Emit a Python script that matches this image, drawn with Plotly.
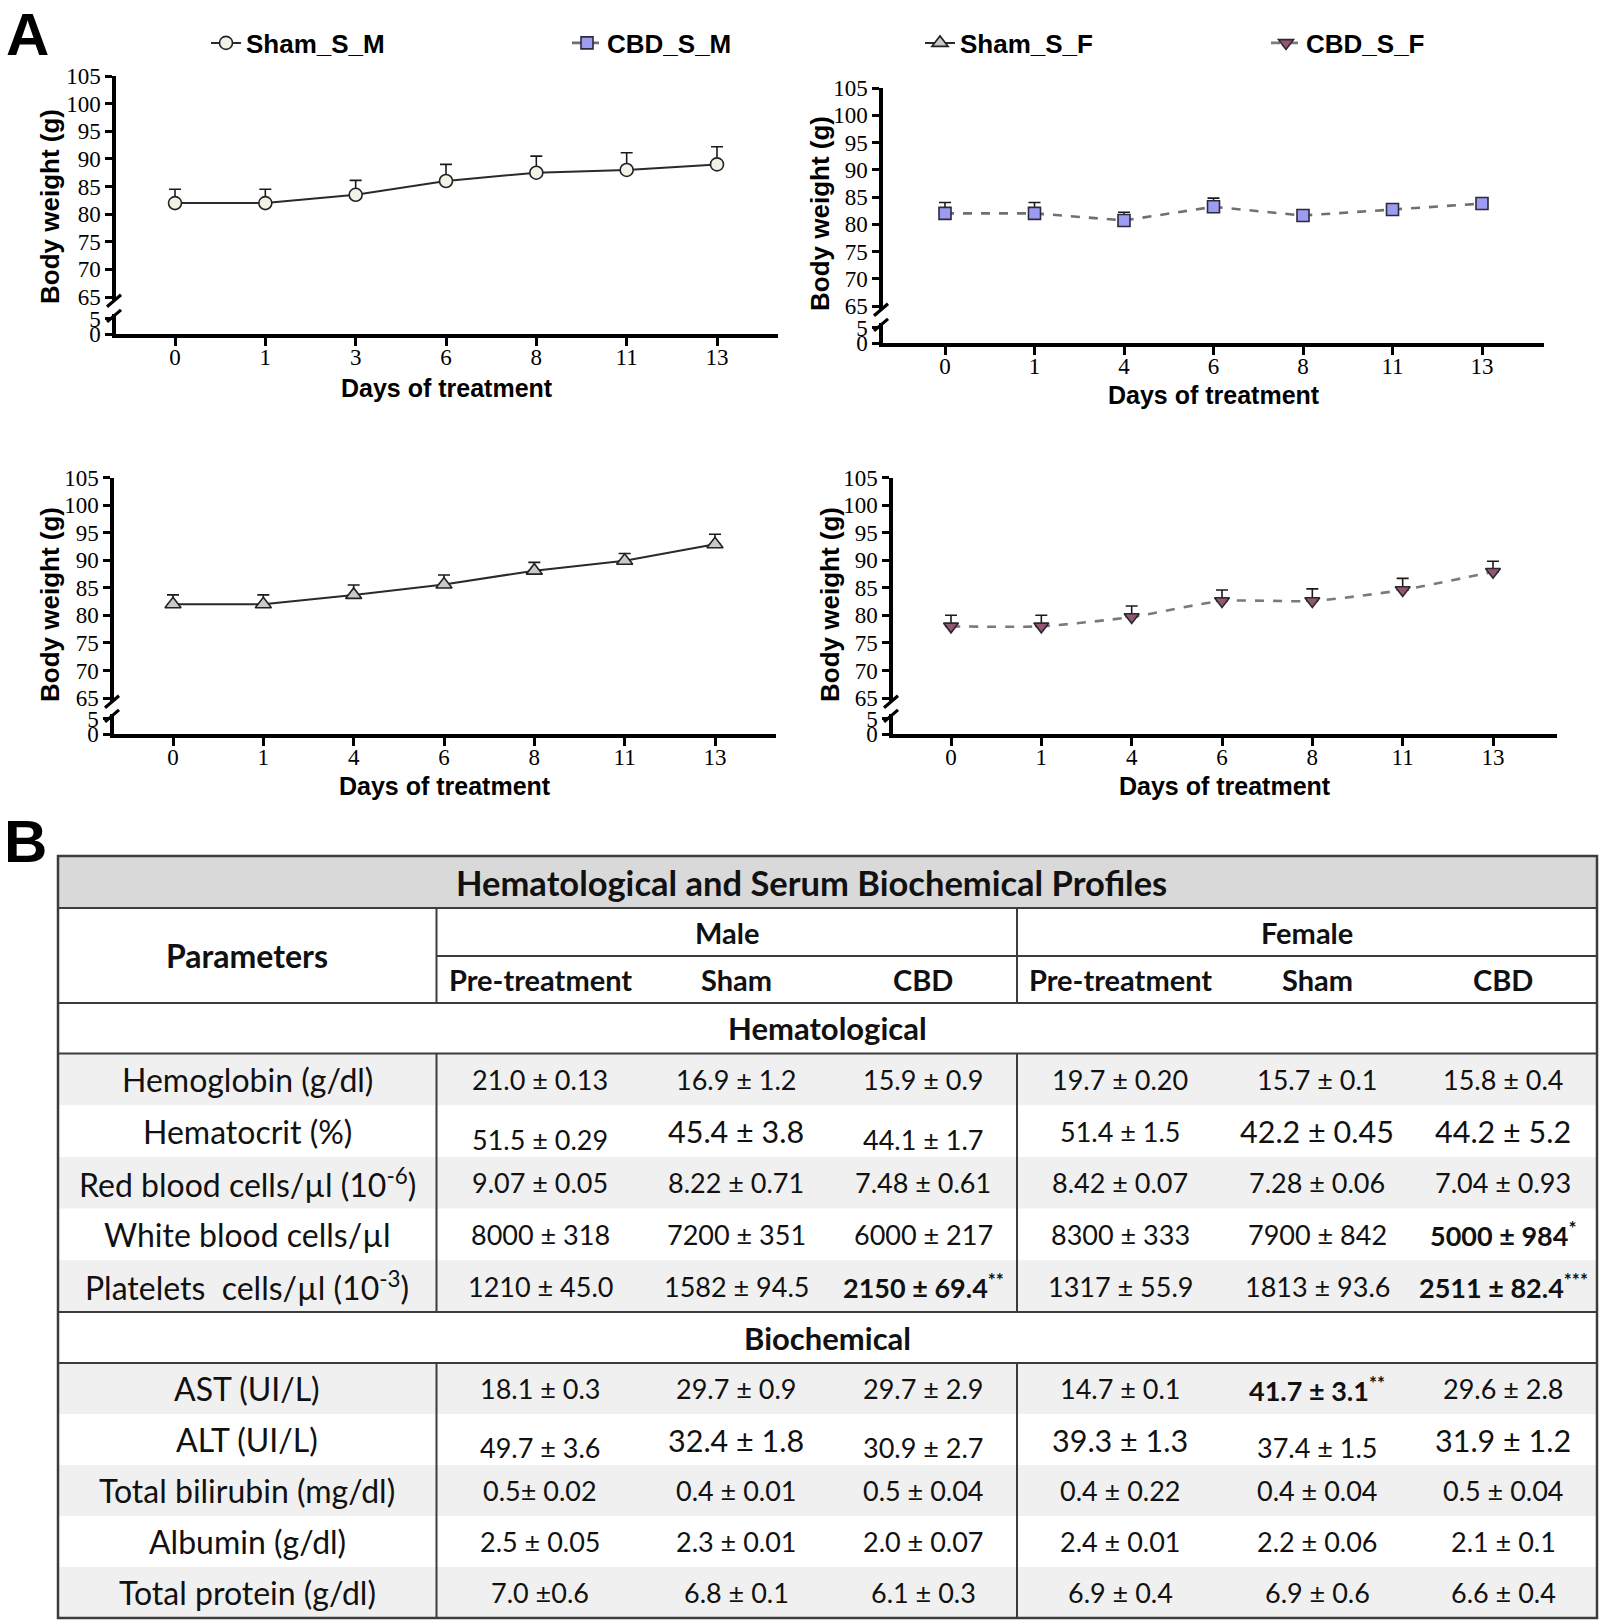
import plotly.graph_objects as go

W, H = 1600, 1622

# ---------------- Panel A: body weight ----------------
days_sham_m = ["0", "1", "3", "6", "8", "11", "13"]
days_cbd_m = ["0", "1", "4", "6", "8", "11", "13"]
days_sham_f = ["0", "1", "4", "6", "8", "11", "13"]
days_cbd_f = ["0", "1", "4", "6", "8", "11", "13"]

sham_m_mean = [82.0, 82.0, 83.5, 86.0, 87.5, 88.0, 89.0]
sham_m_err = [2.5, 2.5, 2.6, 3.0, 3.0, 3.1, 3.2]
cbd_m_mean = [82.0, 82.0, 80.7, 83.2, 81.6, 82.7, 83.8]
cbd_m_err = [2.0, 2.0, 1.5, 1.6, 0.9, 0.9, 0.9]
sham_f_mean = [82.0, 82.0, 83.7, 85.6, 88.1, 89.9, 92.9]
sham_f_err = [1.7, 1.7, 1.8, 1.7, 1.5, 1.3, 1.8]
cbd_f_mean = [78.0, 78.0, 79.7, 82.6, 82.6, 84.6, 87.9]
cbd_f_err = [2.0, 2.0, 2.0, 2.0, 2.2, 2.1, 1.9]

series_names = ["Sham_S_M", "CBD_S_M", "Sham_S_F", "CBD_S_F"]
upper_ticks = [65, 70, 75, 80, 85, 90, 95, 100, 105]
lower_ticks = [0, 5]

# ---------------- Panel B: table ----------------
table_title = "Hematological and Serum Biochemical Profiles"
groups = ["Male", "Female"]
subgroups = ["Pre-treatment", "Sham", "CBD"]

hema_params = ["Hemoglobin (g/dl)", "Hematocrit (%)",
               "Red blood cells/µl (10<sup>-6</sup>)", "White blood cells/µl",
               "Platelets  cells/µl (10<sup>-3</sup>)"]
hema_male_pre = ["21.0 ± 0.13", "51.5 ± 0.29", "9.07 ± 0.05", "8000 ± 318", "1210 ± 45.0"]
hema_male_sham = ["16.9 ± 1.2", "45.4 ± 3.8", "8.22 ± 0.71", "7200 ± 351", "1582 ± 94.5"]
hema_male_cbd = ["15.9 ± 0.9", "44.1 ± 1.7", "7.48 ± 0.61", "6000 ± 217", "2150 ± 69.4"]
hema_female_pre = ["19.7 ± 0.20", "51.4 ± 1.5", "8.42 ± 0.07", "8300 ± 333", "1317 ± 55.9"]
hema_female_sham = ["15.7 ± 0.1", "42.2 ± 0.45", "7.28 ± 0.06", "7900 ± 842", "1813 ± 93.6"]
hema_female_cbd = ["15.8 ± 0.4", "44.2 ± 5.2", "7.04 ± 0.93", "5000 ± 984", "2511 ± 82.4"]

bio_params = ["AST (UI/L)", "ALT (UI/L)", "Total bilirubin (mg/dl)",
              "Albumin (g/dl)", "Total protein (g/dl)"]
bio_male_pre = ["18.1 ± 0.3", "49.7 ± 3.6", "0.5± 0.02", "2.5 ± 0.05", "7.0 ±0.6"]
bio_male_sham = ["29.7 ± 0.9", "32.4 ± 1.8", "0.4 ± 0.01", "2.3 ± 0.01", "6.8 ± 0.1"]
bio_male_cbd = ["29.7 ± 2.9", "30.9 ± 2.7", "0.5 ± 0.04", "2.0 ± 0.07", "6.1 ± 0.3"]
bio_female_pre = ["14.7 ± 0.1", "39.3 ± 1.3", "0.4 ± 0.22", "2.4 ± 0.01", "6.9 ± 0.4"]
bio_female_sham = ["41.7 ± 3.1", "37.4 ± 1.5", "0.4 ± 0.04", "2.2 ± 0.06", "6.9 ± 0.6"]
bio_female_cbd = ["29.6 ± 2.8", "31.9 ± 1.2", "0.5 ± 0.04", "2.1 ± 0.1", "6.6 ± 0.4"]

# (section, row, column, significance mark)
significance = [("hema", 4, 2, "**"), ("hema", 3, 5, "*"),
                ("hema", 4, 5, "***"), ("bio", 0, 4, "**")]


def px(x):
    return x / W


def py(y):
    return 1 - y / H


fig = go.Figure()

# panel geometry in page pixels (t0/t6: first and last tick positions)
panels = [
    dict(left=116, right=778, t0=175, t6=717, y105=76, y65=297, y0=334, xt=388, yt=(50, 207)),
    dict(left=883, right=1544, t0=945, t6=1482, y105=88, y65=306, y0=343, xt=395, yt=(820, 213)),
    dict(left=114, right=776, t0=173, t6=715, y105=477.5, y65=698, y0=734, xt=786, yt=(50, 605)),
    dict(left=893, right=1557, t0=951, t6=1493, y105=477.5, y65=698, y0=734, xt=786, yt=(830, 605)),
]
styles = [
    dict(symbol="circle", size=13, fill="#f4f1e6", line="#222222", dash="solid", lc="#2a2a2a", shape="linear"),
    dict(symbol="square", size=12, fill="#9c9cf2", line="#2a2a3a", dash="dash", lc="#707070", shape="linear"),
    dict(symbol="triangle-up", size=14, fill="#c9c9c9", line="#222222", dash="solid", lc="#2a2a2a", shape="linear"),
    dict(symbol="triangle-down", size=13, fill="#935574", line="#2a2a2a", dash="dash", lc="#7a7a7a", shape="spline"),
]
legend_x = [206, 567, 920, 1266]
days_list = [days_sham_m, days_cbd_m, days_sham_f, days_cbd_f]
means = [sham_m_mean, cbd_m_mean, sham_f_mean, cbd_f_mean]
errs = [sham_m_err, cbd_m_err, sham_f_err, cbd_f_err]

tick_font = dict(family="Liberation Serif, Times New Roman, serif", size=23, color="black")
legend_font = dict(family="Liberation Sans, Arial", size=26, color="black", weight="bold")
shapes = []
annotations = []
legends = {}

for i, (p, st, days, m, e, name) in enumerate(zip(panels, styles, days_list, means, errs, series_names), start=1):
    xn = "xaxis" if i == 1 else f"xaxis{i}"
    yu = "yaxis" if i == 1 else f"yaxis{i}"
    yl = f"yaxis{i + 4}"
    xref = "x" if i == 1 else f"x{i}"
    yuref = "y" if i == 1 else f"y{i}"
    ylref = f"y{i + 4}"
    lg = "legend" if i == 1 else f"legend{i}"

    sp = (p["t6"] - p["t0"]) / 6.0
    xr = [(p["left"] - p["t0"]) / sp, (p["right"] - p["t0"]) / sp]
    ppu = (p["y65"] - p["y105"]) / 40.0
    up_bottom = p["y65"] + 0.5 * ppu
    low_top = p["y0"] - 6.5 * 3.1

    fig.add_trace(go.Scatter(
        x=list(range(len(days))), y=m, name=name, legend=lg,
        mode="lines+markers", xaxis=xref, yaxis=yuref,
        line=dict(color=st["lc"], width=2.6 if st["dash"] == "dash" else 2, dash=st["dash"], shape=st["shape"], smoothing=0.6),
        marker=dict(symbol=st["symbol"], size=st["size"], color=st["fill"], line=dict(color=st["line"], width=1.6)),
        error_y=dict(type="data", array=e, arrayminus=[0] * len(e), symmetric=False,
                     color="#1a1a1a", thickness=1.6, width=6),
        cliponaxis=False,
    ))
    # empty trace so the lower (broken) axis segment forms its own subplot
    fig.add_trace(go.Scatter(x=[None], y=[None], xaxis=xref, yaxis=ylref,
                             showlegend=False, mode="markers", hoverinfo="skip"))

    legends[lg] = dict(orientation="h", x=px(legend_x[i - 1]), y=py(43), xanchor="left", yanchor="middle",
                       bgcolor="rgba(0,0,0,0)", font=legend_font, itemwidth=30)

    fig.layout[xn] = dict(
        domain=[px(p["left"]), px(p["right"])], range=xr, anchor=ylref,
        tickvals=list(range(len(days))), ticktext=days, showgrid=False, zeroline=False,
        showline=True, linecolor="black", linewidth=3.5,
        ticks="outside", ticklen=8, tickwidth=3, tickcolor="black", tickfont=tick_font,
        ticklabelstandoff=-8,
    )
    fig.layout[yu] = dict(
        domain=[py(up_bottom), py(p["y105"])], range=[64.5, 105], anchor=xref,
        tickvals=upper_ticks, showgrid=False, zeroline=False,
        showline=True, linecolor="black", linewidth=3.5,
        ticks="outside", ticklen=7, tickwidth=2.5, tickcolor="black", tickfont=tick_font,
    )
    fig.layout[yl] = dict(
        domain=[py(p["y0"]), py(low_top)], range=[0, 6.5], anchor=xref,
        tickvals=lower_ticks, showgrid=False, zeroline=False,
        showline=True, linecolor="black", linewidth=3.5,
        ticks="outside", ticklen=7, tickwidth=2.5, tickcolor="black", tickfont=tick_font,
    )

    # axis break marks
    for yb in (up_bottom + 1, low_top + 2):
        shapes.append(dict(type="line", xref="paper", yref="paper",
                           x0=px(p["left"] - 9), y0=py(yb + 6), x1=px(p["left"] + 5), y1=py(yb - 6),
                           line=dict(color="black", width=3.2)))

    annotations.append(dict(text="Days of treatment", xref="paper", yref="paper",
                            x=px((p["left"] + p["right"]) / 2), y=py(p["xt"]), showarrow=False,
                            xanchor="center", yanchor="middle",
                            font=dict(family="Liberation Sans, Arial", size=25, color="black", weight="bold")))
    annotations.append(dict(text="Body weight (g)", xref="paper", yref="paper", textangle=-90,
                            x=px(p["yt"][0]), y=py(p["yt"][1]), showarrow=False,
                            xanchor="center", yanchor="middle",
                            font=dict(family="Liberation Sans, Arial", size=26, color="black", weight="bold")))

# panel letters
for letter, (lx, ly) in zip(["A", "B"], [(27, 34), (25, 841)]):
    annotations.append(dict(text=letter, xref="paper", yref="paper", x=px(lx), y=py(ly),
                            showarrow=False, xanchor="center", yanchor="middle",
                            font=dict(family="Liberation Sans, Arial", size=60, color="black", weight="bold")))

# ---------------- table drawing ----------------
T_L, T_R = 58, 1597
C_P, C_M = 436.5, 1017
Y_TOP, Y_TITLE, Y_H1, Y_H2, Y_HSEC = 856, 908, 956, 1003, 1053.5
Y_HEND, Y_BSEC, Y_BEND = 1312, 1363, 1618
col_x = [540, 736, 923, 1120, 1317, 1503]
line_c = "#3c3c3c"
tfont = "Lato, Carlito, Calibri, sans-serif"


def rect(x0, y0, x1, y1, color):
    shapes.append(dict(type="rect", xref="paper", yref="paper", layer="below",
                       x0=px(x0), y0=py(y1), x1=px(x1), y1=py(y0),
                       fillcolor=color, line=dict(width=0)))


def hline(x0, x1, y, w=2):
    shapes.append(dict(type="line", xref="paper", yref="paper",
                       x0=px(x0), x1=px(x1), y0=py(y), y1=py(y), line=dict(color=line_c, width=w)))


def vline(x, y0, y1, w=2):
    shapes.append(dict(type="line", xref="paper", yref="paper",
                       x0=px(x), x1=px(x), y0=py(y0), y1=py(y1), line=dict(color=line_c, width=w)))


def text(s, x, y, size, bold=False):
    annotations.append(dict(text=s, xref="paper", yref="paper", x=px(x), y=py(y),
                            showarrow=False, xanchor="center", yanchor="middle",
                            font=dict(family=tfont, size=size, color="#111111",
                                      weight="bold" if bold else "normal")))


rect(T_L, Y_TOP, T_R, Y_TITLE, "#d9d9d9")

sections = [
    ("hema", "Hematological", hema_params,
     [hema_male_pre, hema_male_sham, hema_male_cbd, hema_female_pre, hema_female_sham, hema_female_cbd],
     Y_H2, Y_HSEC, Y_HEND),
    ("bio", "Biochemical", bio_params,
     [bio_male_pre, bio_male_sham, bio_male_cbd, bio_female_pre, bio_female_sham, bio_female_cbd],
     Y_HEND, Y_BSEC, Y_BEND),
]
sig_map = {(s, r, c): mark for s, r, c, mark in significance}
# cells printed larger / lower in the source table
big_cells = {("hema", 1, 1), ("hema", 1, 4), ("hema", 1, 5),
             ("bio", 1, 1), ("bio", 1, 3), ("bio", 1, 5)}
low_cells = {("hema", 1, 0), ("hema", 1, 2), ("bio", 1, 0), ("bio", 1, 2), ("bio", 1, 4)}

for key, label, params, cols, y_sec0, y_sec1, y_end in sections:
    text(f"<b>{label}</b>", (T_L + T_R) / 2, (y_sec0 + y_sec1) / 2, 31, bold=True)
    rh = (y_end - y_sec1) / len(params)
    for r, prm in enumerate(params):
        r0 = y_sec1 + r * rh
        rc = r0 + rh / 2
        if r % 2 == 0:
            rect(T_L, r0, T_R, r0 + rh, "#f0f0f0")
        text(prm, (T_L + C_P) / 2, rc, 32)
        for c, col in enumerate(cols):
            k = (key, r, c)
            s = col[r]
            mark = sig_map.get(k, "")
            if mark:
                s = f"<b>{s}</b><sup>{mark}</sup>"
            size = 30.5 if k in big_cells else 27
            yy = rc + 8 if k in low_cells else rc
            text(s, col_x[c], yy, size, bold=bool(mark))
    hline(T_L, T_R, y_sec1)
    vline(C_P, y_sec1, y_end)
    vline(C_M, y_sec1, y_end)

# header texts
text(f"<b>{table_title}</b>", 811, (Y_TOP + Y_TITLE) / 2, 34.5, bold=True)
text("<b>Parameters</b>", (T_L + C_P) / 2, (Y_TITLE + Y_H2) / 2, 32, bold=True)
text(f"<b>{groups[0]}</b>", (C_P + C_M) / 2, (Y_TITLE + Y_H1) / 2, 29, bold=True)
text(f"<b>{groups[1]}</b>", (C_M + T_R) / 2, (Y_TITLE + Y_H1) / 2, 29, bold=True)
for c, sg in enumerate(subgroups * 2):
    text(f"<b>{sg}</b>", col_x[c], (Y_H1 + Y_H2) / 2, 29, bold=True)

# grid lines
hline(T_L, T_R, Y_TITLE)
hline(C_P, T_R, Y_H1)
hline(T_L, T_R, Y_H2)
hline(T_L, T_R, Y_HEND)
vline(C_P, Y_TITLE, Y_H2)
vline(C_M, Y_TITLE, Y_H2)
shapes.append(dict(type="rect", xref="paper", yref="paper",
                   x0=px(T_L), x1=px(T_R), y0=py(Y_BEND), y1=py(Y_TOP),
                   line=dict(color=line_c, width=2.5), fillcolor="rgba(0,0,0,0)"))

fig.update_layout(
    width=W, height=H,
    margin=dict(l=0, r=0, t=0, b=0, autoexpand=False),
    paper_bgcolor="white", plot_bgcolor="white",
    showlegend=True,
    shapes=shapes,
    annotations=annotations,
    hovermode=False,
    **legends,
)

fig.write_html("out.html", config={"displayModeBar": False},
               post_script="document.body.style.margin='0px';document.body.style.overflow='hidden';")
